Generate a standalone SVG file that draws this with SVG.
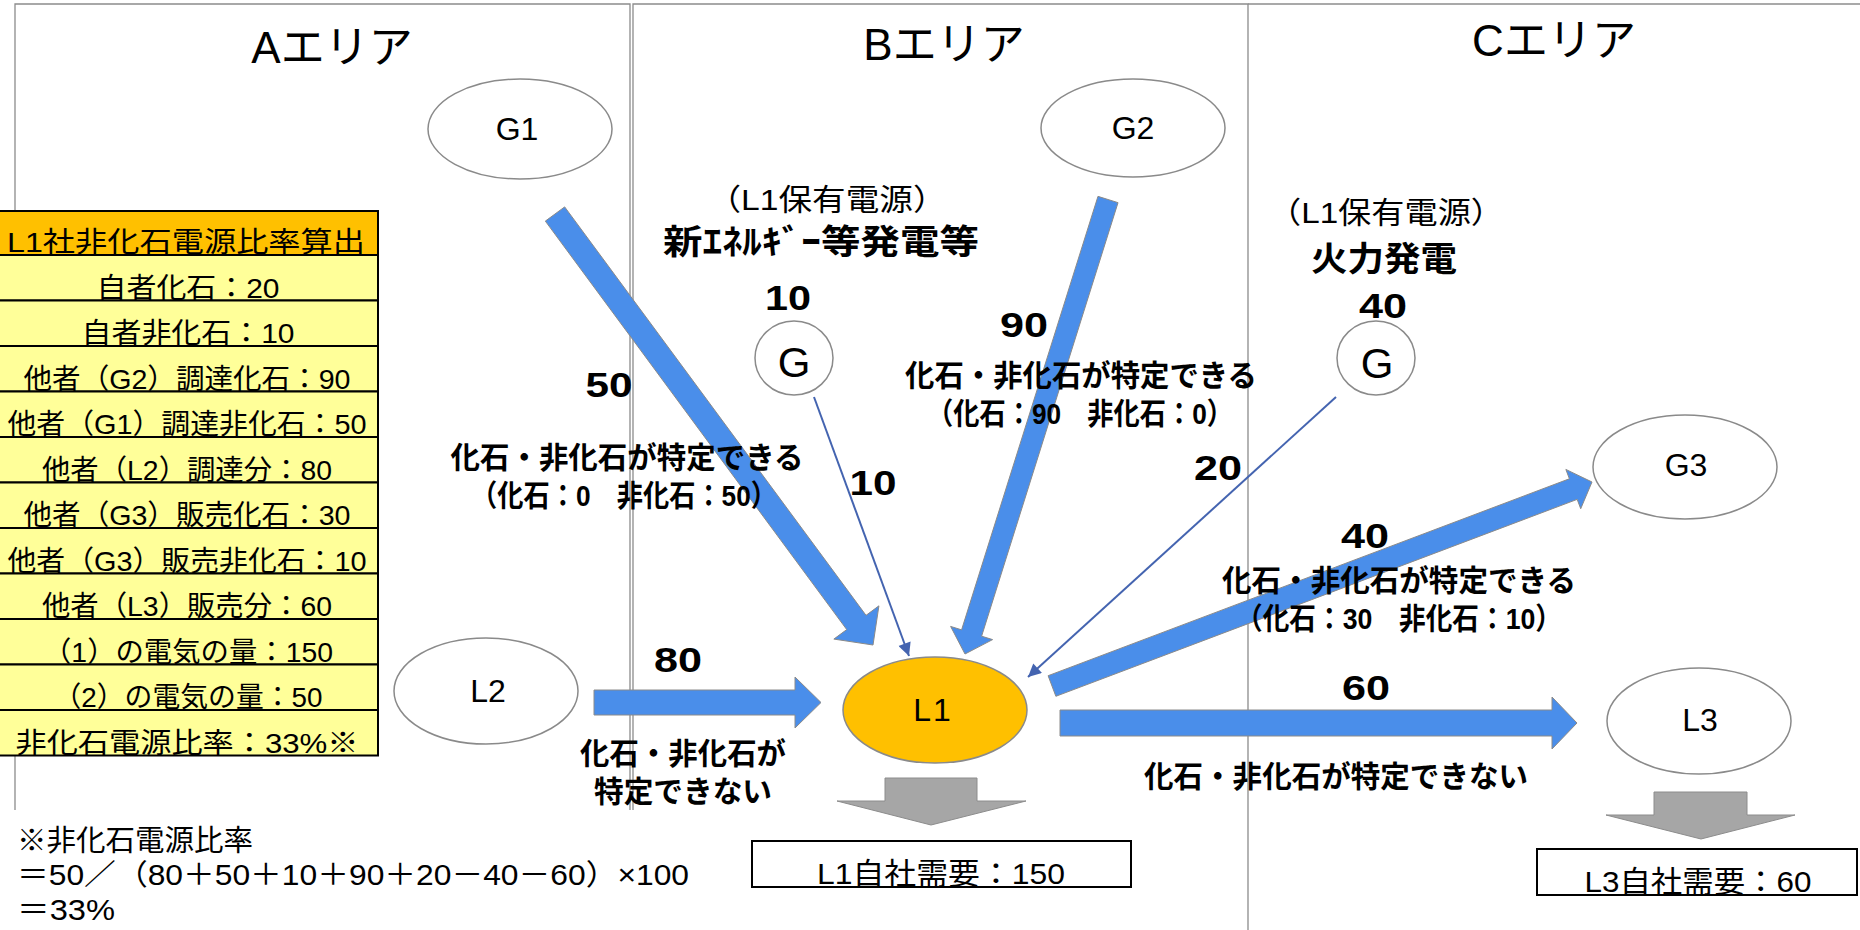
<svg xmlns="http://www.w3.org/2000/svg" width="1860" height="930" viewBox="0 0 1860 930">
<defs>
<style>
text{font-family:"Liberation Sans","Noto Sans CJK JP",sans-serif;fill:#000}
.area{fill:none;stroke:#8c8c8c;stroke-width:1.3}
.title{font-size:44px;text-anchor:middle}
.node{fill:#fff;stroke:#8a8a8a;stroke-width:1.5}
.nl{font-size:32px;text-anchor:middle}
.gl{font-size:42px;text-anchor:middle}
.num{font-size:35px;font-weight:bold;text-anchor:middle}
.lab{font-size:30px;font-weight:bold;text-anchor:middle}
.sub{font-size:30px;text-anchor:middle}
.blue{fill:#4a8eea;stroke:#8a8a8a;stroke-width:1}
.grey{fill:#a6a6a6;stroke:#8c8c8c;stroke-width:1}
.thin{stroke:#4464b0;stroke-width:2;fill:none}
.cellh{fill:#ffc000;stroke:#000;stroke-width:2}
.cell{fill:#ffff99;stroke:#000;stroke-width:2}
.tt{font-size:28px;text-anchor:middle}
.box{fill:#fff;stroke:#000;stroke-width:2}
.fn{font-size:29px}
</style>
<marker id="ah" viewBox="0 0 10 10" refX="10" refY="5" markerUnits="userSpaceOnUse" markerWidth="17" markerHeight="13" orient="auto">
<path d="M0,0 L10,5 L0,10 z" fill="#4464b0"/>
</marker>
</defs>

<g id="areas">
<path class="area" d="M15,810 V4 H630 V810"/>
<path class="area" d="M633,810 V4 H1248 V930"/>
<path class="area" d="M1248,4 H1862"/>
<text class="title" x="332" y="63">Aエリア</text>
<text class="title" x="944" y="60">Bエリア</text>
<text class="title" x="1554" y="56">Cエリア</text>
</g>

<g id="table">
<rect class="cellh" x="-2" y="211" width="380" height="44"/>
<rect class="cell" x="-2" y="255" width="380" height="45.5"/>
<rect class="cell" x="-2" y="300.5" width="380" height="45.5"/>
<rect class="cell" x="-2" y="346" width="380" height="45.5"/>
<rect class="cell" x="-2" y="391.5" width="380" height="45.5"/>
<rect class="cell" x="-2" y="437" width="380" height="45.5"/>
<rect class="cell" x="-2" y="482.5" width="380" height="45.5"/>
<rect class="cell" x="-2" y="528" width="380" height="45.5"/>
<rect class="cell" x="-2" y="573.5" width="380" height="45.5"/>
<rect class="cell" x="-2" y="619" width="380" height="45.5"/>
<rect class="cell" x="-2" y="664.5" width="380" height="45.5"/>
<rect class="cell" x="-2" y="710" width="380" height="45.5"/>
<text class="tt" x="186" y="252" textLength="358" lengthAdjust="spacingAndGlyphs">L1社非化石電源比率算出</text>
<text class="tt" x="188" y="297.5" textLength="183" lengthAdjust="spacingAndGlyphs">自者化石：20</text>
<text class="tt" x="188" y="343" textLength="213" lengthAdjust="spacingAndGlyphs">自者非化石：10</text>
<text class="tt" x="187" y="388.5" textLength="327" lengthAdjust="spacingAndGlyphs">他者（G2）調達化石：90</text>
<text class="tt" x="187" y="434" textLength="359" lengthAdjust="spacingAndGlyphs">他者（G1）調達非化石：50</text>
<text class="tt" x="187" y="479.5" textLength="290" lengthAdjust="spacingAndGlyphs">他者（L2）調達分：80</text>
<text class="tt" x="187" y="525" textLength="327" lengthAdjust="spacingAndGlyphs">他者（G3）販売化石：30</text>
<text class="tt" x="187" y="570.5" textLength="359" lengthAdjust="spacingAndGlyphs">他者（G3）販売非化石：10</text>
<text class="tt" x="187" y="616" textLength="290" lengthAdjust="spacingAndGlyphs">他者（L3）販売分：60</text>
<text class="tt" x="188" y="661.5" textLength="290" lengthAdjust="spacingAndGlyphs">（1）の電気の量：150</text>
<text class="tt" x="188" y="707" textLength="269" lengthAdjust="spacingAndGlyphs">（2）の電気の量：50</text>
<text class="tt" x="187" y="752.5" textLength="343" lengthAdjust="spacingAndGlyphs">非化石電源比率：33%※</text>
</g>

<g id="connectors">
<polygon id="c-g1-l1" class="blue" points="545.34,221.12 846.72,629.59 833.85,639.09 873,645 878.91,605.85 866.04,615.35 564.66,206.88"/>
<polygon id="c-g2-l1" class="blue" points="1097.98,196.35 961.58,629.86 950.61,626.41 965,654 992.59,639.61 981.62,636.16 1118.02,202.65"/>
<polygon id="c-l1-g3" class="blue" points="1055.89,696.29 1577.18,499.36 1580.71,508.72 1592,482 1565.87,469.42 1569.40,478.78 1048.11,675.71"/>
<polygon id="c-l2-l1" class="blue" points="594,690 795,690 795,677 821,702.5 795,728 795,715 594,715"/>
<polygon id="c-l1-l3" class="blue" points="1060,710 1552,710 1552,697 1577,723 1552,749 1552,736 1060,736"/>
<line id="c-gb-l1" class="thin" x1="814" y1="397" x2="909" y2="656" marker-end="url(#ah)"/>
<line id="c-gc-l1" class="thin" x1="1336" y1="397" x2="1028" y2="677" marker-end="url(#ah)"/>
<polygon id="c-l1-demand" class="grey" points="885,778 977,778 977,801 1026,801 931,825 837,801 885,801"/>
<polygon id="c-l3-demand" class="grey" points="1654,792 1747,792 1747,815 1795,815 1701,839 1606,815 1654,815"/>
</g>

<g id="labels">
<text class="num" x="609" y="397" textLength="47" lengthAdjust="spacingAndGlyphs">50</text>
<text class="num" x="873" y="495" textLength="47" lengthAdjust="spacingAndGlyphs">10</text>
<text class="num" x="788" y="310" textLength="46" lengthAdjust="spacingAndGlyphs">10</text>
<text class="num" x="1024" y="337" textLength="48" lengthAdjust="spacingAndGlyphs">90</text>
<text class="num" x="1218" y="480" textLength="48" lengthAdjust="spacingAndGlyphs">20</text>
<text class="num" x="1383" y="318" textLength="48" lengthAdjust="spacingAndGlyphs">40</text>
<text class="num" x="1365" y="548" textLength="48" lengthAdjust="spacingAndGlyphs">40</text>
<text class="num" x="678" y="672" textLength="48" lengthAdjust="spacingAndGlyphs">80</text>
<text class="num" x="1366" y="700" textLength="48" lengthAdjust="spacingAndGlyphs">60</text>
<text class="lab" x="627" y="468" textLength="353" lengthAdjust="spacingAndGlyphs">化石・非化石が特定できる</text>
<text class="lab" x="624" y="506" textLength="306" lengthAdjust="spacingAndGlyphs">（化石：0　非化石：50）</text>
<text class="lab" x="1081" y="386" textLength="352" lengthAdjust="spacingAndGlyphs">化石・非化石が特定できる</text>
<text class="lab" x="1080" y="424" textLength="306" lengthAdjust="spacingAndGlyphs">（化石：90　非化石：0）</text>
<text class="lab" x="1399" y="591" textLength="354" lengthAdjust="spacingAndGlyphs">化石・非化石が特定できる</text>
<text class="lab" x="1399" y="629" textLength="326" lengthAdjust="spacingAndGlyphs">（化石：30　非化石：10）</text>
<text class="lab" x="683" y="764" textLength="206" lengthAdjust="spacingAndGlyphs">化石・非化石が</text>
<text class="lab" x="683" y="802" textLength="178" lengthAdjust="spacingAndGlyphs">特定できない</text>
<text class="lab" x="1336" y="787" textLength="384" lengthAdjust="spacingAndGlyphs">化石・非化石が特定できない</text>
<text class="sub" x="827" y="210" textLength="239" lengthAdjust="spacingAndGlyphs">（L1保有電源）</text>
<text class="lab" x="821" y="254" style="font-size:34px" textLength="316" lengthAdjust="spacingAndGlyphs">新ｴﾈﾙｷﾞｰ等発電等</text>
<text class="sub" x="1386" y="223" textLength="236" lengthAdjust="spacingAndGlyphs">（L1保有電源）</text>
<text class="lab" x="1384" y="271" style="font-size:34px" textLength="146" lengthAdjust="spacingAndGlyphs">火力発電</text>
</g>

<g id="node-G1"><ellipse class="node" cx="520" cy="129" rx="92" ry="50"/><text class="nl" x="517" y="140">G1</text></g>
<g id="node-G2"><ellipse class="node" cx="1133" cy="128" rx="92" ry="49"/><text class="nl" x="1133" y="139">G2</text></g>
<g id="node-G3"><ellipse class="node" cx="1685" cy="467" rx="92" ry="52"/><text class="nl" x="1686" y="476">G3</text></g>
<g id="node-L2"><ellipse class="node" cx="486" cy="691" rx="92" ry="53"/><text class="nl" x="488" y="702">L2</text></g>
<g id="node-L3"><ellipse class="node" cx="1699" cy="721" rx="92" ry="53"/><text class="nl" x="1700" y="731">L3</text></g>
<g id="node-L1"><ellipse cx="935" cy="710" rx="92" ry="53" fill="#ffc000" stroke="#8a8a8a" stroke-width="1.5"/><text class="nl" x="933" y="721" letter-spacing="2">L1</text></g>
<g id="node-GB"><ellipse class="node" cx="794" cy="358" rx="39" ry="37"/><text class="gl" x="794" y="377">G</text></g>
<g id="node-GC"><ellipse class="node" cx="1376" cy="358" rx="39" ry="37"/><text class="gl" x="1377" y="378">G</text></g>

<g id="node-L1-demand"><rect class="box" x="752" y="841" width="379" height="46"/><text class="tt" x="941" y="884" style="font-size:30px" textLength="248" lengthAdjust="spacingAndGlyphs">L1自社需要：150</text></g>
<g id="node-L3-demand"><rect class="box" x="1537" y="849" width="320" height="46"/><text class="tt" x="1698" y="892" style="font-size:30px" textLength="227" lengthAdjust="spacingAndGlyphs">L3自社需要：60</text></g>

<g id="footnote">
<text class="fn" x="17" y="851" textLength="236" lengthAdjust="spacingAndGlyphs">※非化石電源比率</text>
<text class="fn" x="17" y="885" textLength="672" lengthAdjust="spacingAndGlyphs">＝50／（80＋50＋10＋90＋20－40－60）×100</text>
<text class="fn" x="17" y="920" textLength="98" lengthAdjust="spacingAndGlyphs">＝33%</text>
</g>
</svg>
